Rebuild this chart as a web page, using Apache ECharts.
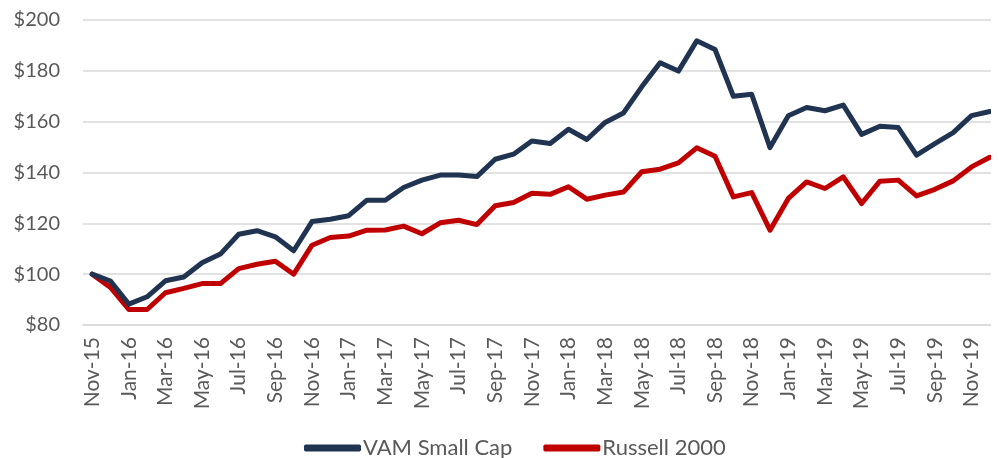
<!DOCTYPE html>
<html>
<head>
<meta charset="utf-8">
<script src="https://cdn.jsdelivr.net/npm/echarts@6/dist/echarts.min.js"></script>
<style>html,body{margin:0;padding:0;background:#fff;}#c{width:999px;height:458px;}</style>
</head>
<body>
<div id="c"></div>
<script>
const months = ['Nov-15','Dec-15','Jan-16','Feb-16','Mar-16','Apr-16','May-16','Jun-16','Jul-16','Aug-16','Sep-16','Oct-16',
  'Nov-16','Dec-16','Jan-17','Feb-17','Mar-17','Apr-17','May-17','Jun-17','Jul-17','Aug-17','Sep-17','Oct-17',
  'Nov-17','Dec-17','Jan-18','Feb-18','Mar-18','Apr-18','May-18','Jun-18','Jul-18','Aug-18','Sep-18','Oct-18',
  'Nov-18','Dec-18','Jan-19','Feb-19','Mar-19','Apr-19','May-19','Jun-19','Jul-19','Aug-19','Sep-19','Oct-19',
  'Nov-19','Dec-19'];
const vamSmallCap = [100,97.3,88.2,91.1,97.4,98.9,104.5,107.9,115.7,117.1,114.7,109.2,
  120.7,121.6,123,129.1,129.1,134.1,137,139,139,138.4,145.2,147.2,
  152.4,151.4,157,153,159.7,163.4,173.7,183.2,179.9,191.8,188.4,170,
  170.8,149.8,162.3,165.6,164.3,166.5,155,158.2,157.7,146.8,151.4,155.7,
  162.4,164];
const russell2000 = [100,94.8,86.1,86.1,92.7,94.4,96.3,96.3,102.2,103.9,105.1,100,
  111.4,114.4,115,117.3,117.4,118.9,115.9,120.2,121.2,119.5,126.9,128.2,
  131.8,131.4,134.4,129.5,131.1,132.3,140.3,141.3,143.8,149.7,146.4,130.4,
  132.1,117.3,129.8,136.3,133.7,138.3,127.8,136.6,137,130.8,133.4,136.7,
  142.2,146];
const yMin = 80, yMax = 200, yStep = 20;

const chart = echarts.init(document.getElementById('c'), null, {renderer:'canvas'});
const FONT = 'Lato';
chart.setOption({
  animation: false,
  backgroundColor: '#ffffff',
  grid: {left: 83, right: -11, top: 20, bottom: 133, containLabel: false},
  legend: {
    top: 432, left: 299,
    icon: 'roundRect', itemWidth: 57, itemHeight: 7, itemGap: 31,
    textStyle: {fontFamily: FONT, fontSize: 22, color: '#595959', padding: [0,0,0,-3]},
    data: ['VAM Small Cap', 'Russell 2000']
  },
  xAxis: {
    type: 'category', data: months, boundaryGap: true,
    axisLine: {lineStyle: {color: '#D9D9D9', width: 1.5}},
    axisTick: {show: false},
    axisLabel: {interval: 1, rotate: 90, margin: 12, fontFamily: FONT, fontSize: 21, color: '#595959'},
    splitLine: {show: false}
  },
  yAxis: {
    type: 'value', min: yMin, max: yMax, interval: yStep,
    axisLine: {show: false}, axisTick: {show: false},
    axisLabel: {formatter: '${value}', margin: 23, fontFamily: FONT, fontSize: 20, color: '#595959'},
    splitLine: {lineStyle: {color: '#D9D9D9', width: 1.5}}
  },
  graphic: [{type: 'rect', left: 991, top: 0, z: 100, shape: {width: 20, height: 330}, style: {fill: '#ffffff'}}],
  series: [
    {name: 'VAM Small Cap', type: 'line', data: vamSmallCap, symbol: 'none', color: '#203452',
     lineStyle: {width: 5, cap: 'round', join: 'round'}, z: 3},
    {name: 'Russell 2000', type: 'line', data: russell2000, symbol: 'none', color: '#C00000',
     lineStyle: {width: 5, cap: 'round', join: 'round'}, z: 2}
  ]
});
</script>
</body>
</html>
